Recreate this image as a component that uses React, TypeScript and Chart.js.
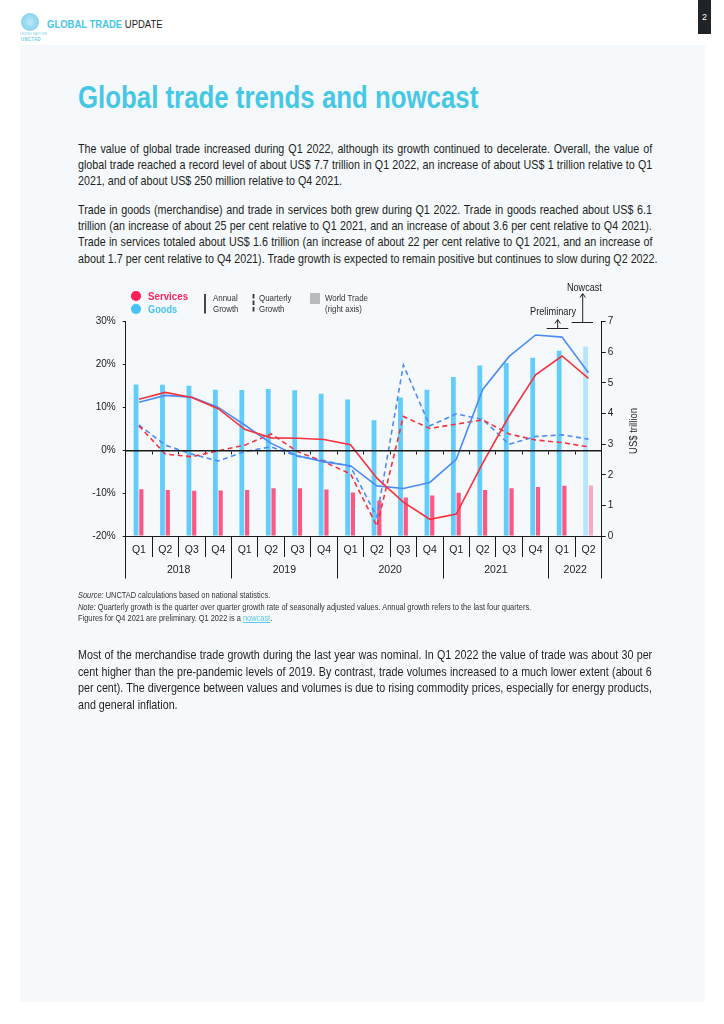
import React, { useEffect, useLayoutEffect, useRef } from 'react';
import { Chart, registerables } from 'chart.js';

Chart.register(...registerables);

// ---------- data ----------
const quarterLabels = ['Q1', 'Q2', 'Q3', 'Q4', 'Q1', 'Q2', 'Q3', 'Q4', 'Q1', 'Q2', 'Q3', 'Q4', 'Q1', 'Q2', 'Q3', 'Q4', 'Q1', 'Q2'];
const yearLabels = ['2018', '2019', '2020', '2021', '2022'];
const quartersPerYear = [4, 4, 4, 4, 2];

// World trade, US$ trillion (right axis)
const goodsTrade = [4.95, 4.94, 4.91, 4.78, 4.77, 4.80, 4.76, 4.65, 4.46, 3.78, 4.52, 4.78, 5.19, 5.57, 5.65, 5.82, 6.05, 6.19];
const servicesTrade = [1.53, 1.50, 1.48, 1.49, 1.50, 1.56, 1.56, 1.52, 1.42, 1.16, 1.26, 1.32, 1.41, 1.50, 1.56, 1.60, 1.64, 1.65];

// Growth rates, % (left axis)
const servicesAnnualGrowth = [11.9, 13.5, 12.3, 9.7, 4.9, 2.9, 2.8, 2.5, 1.3, -6.5, -12.1, -16.1, -14.9, -3.0, 8.0, 17.6, 22.0, 16.8];
const goodsAnnualGrowth = [11.2, 12.8, 12.4, 10.0, 5.9, 1.6, -1.3, -2.7, -3.6, -8.3, -8.9, -7.5, -2.1, 14.2, 21.9, 26.9, 26.4, 18.1];
const servicesQuarterlyGrowth = [5.7, -0.9, -1.5, -0.1, 1.2, 3.8, -0.3, -2.7, -5.5, -17.7, 7.9, 5.1, 6.1, 7.1, 3.8, 2.4, 1.8, 0.8];
const goodsQuarterlyGrowth = [5.9, 1.2, -0.9, -2.5, -0.3, 0.8, -1.4, -2.4, -3.8, -15.5, 19.9, 5.7, 8.5, 7.2, 1.4, 3.2, 3.6, 2.6];

const nowcastFromIndex = 17;
const leftAxisRange = [-20, 30];
const leftAxisStep = 10;
const rightAxisRange = [0, 7];
const rightAxisStep = 1;

const para1Lines = [
  'The value of global trade increased during Q1 2022, although its growth continued to decelerate. Overall, the value of',
  'global trade reached a record level of about US$ 7.7 trillion in Q1 2022, an increase of about US$ 1 trillion relative to Q1',
  '2021, and of about US$ 250 million relative to Q4 2021.',
];
const para2Lines = [
  'Trade in goods (merchandise) and trade in services both grew during Q1 2022. Trade in goods reached about US$ 6.1',
  'trillion (an increase of about 25 per cent relative to Q1 2021, and an increase of about 3.6 per cent relative to Q4 2021).',
  'Trade in services totaled about US$ 1.6 trillion (an increase of about 22 per cent relative to Q1 2021, and an increase of',
  'about 1.7 per cent relative to Q4 2021). Trade growth is expected to remain positive but continues to slow during Q2 2022.',
];
const para3Lines = [
  'Most of the merchandise trade growth during the last year was nominal. In Q1 2022 the value of trade was about 30 per',
  'cent higher than the pre-pandemic levels of 2019. By contrast, trade volumes increased to a much lower extent (about 6',
  'per cent). The divergence between values and volumes is due to rising commodity prices, especially for energy products,',
  'and general inflation.',
];

// ---------- styles ----------
const SANS = "'Liberation Sans', Arial, sans-serif";
const COND = 0.825; // horizontal condensing of DOM text
const CYAN = '#47c7e6';
const TEXT = '#231f20';
const GOODS = '#62cdfa';
const GOODS_NOW = '#b6e6fb';
const SERV = '#fb5886';
const SERV_NOW = '#f9a9c2';
const RED = '#f7323d';
const BLUE = '#4d8cf5';
const AXIS = '#1a1a1a';

const TEXT_LEFT = 78;
const TEXT_WIDTH = 574;

function CText({ left, top, size, lh, color = TEXT, weight, children, style = {} }: any) {
  return (
    <div
      style={{
        position: 'absolute',
        left,
        top,
        fontFamily: SANS,
        fontSize: size,
        lineHeight: lh + 'px',
        color,
        fontWeight: weight,
        whiteSpace: 'nowrap',
        transform: `scaleX(${COND})`,
        transformOrigin: '0 50%',
        ...style,
      }}
    >
      {children}
    </div>
  );
}

function JLine({ text, top, justify }: { text: string; top: number; justify: boolean }) {
  const ref = useRef<HTMLSpanElement>(null);
  useLayoutEffect(() => {
    const el = ref.current;
    if (!el || !justify) return;
    el.style.wordSpacing = '0px';
    const w = el.offsetWidth;
    const spaces = (text.match(/ /g) || []).length;
    if (spaces) el.style.wordSpacing = (TEXT_WIDTH / COND - w) / spaces + 'px';
  }, [text, justify]);
  return (
    <CText left={TEXT_LEFT} top={top} size={13} lh={16}>
      <span ref={ref} style={{ display: 'inline-block' }}>{text}</span>
    </CText>
  );
}

function Para({ lines, firstCenter, spacing }: { lines: string[]; firstCenter: number; spacing: number }) {
  return (
    <>
      {lines.map((l, i) => (
        <JLine key={i} text={l} top={firstCenter + i * spacing - 8} justify={i < lines.length - 1} />
      ))}
    </>
  );
}

function ChartBox() {
  const canvasRef = useRef<HTMLCanvasElement>(null);
  useEffect(() => {
    const canvas = canvasRef.current;
    if (!canvas) return;
    const bounds: number[] = [0];
    quartersPerYear.forEach((q) => bounds.push(bounds[bounds.length - 1] + q));
    const centers = quartersPerYear.map((q, i) => bounds[i] + q / 2);
    const yearTickValues = [...bounds, ...centers].sort((a, b) => a - b);
    const yearLabelAt = (v: number) => {
      const i = centers.indexOf(v);
      return i >= 0 ? yearLabels[i] : '';
    };
    const nulls = quarterLabels.map(() => null);
    const goodsColors = goodsTrade.map((_, i) => (i >= nowcastFromIndex ? GOODS_NOW : GOODS));
    const servColors = servicesTrade.map((_, i) => (i >= nowcastFromIndex ? SERV_NOW : SERV));
    const tickFont = { family: SANS, size: 10 };
    const boundColor = (ctx: any) => (ctx.tick && bounds.includes(ctx.tick.value) ? AXIS : 'rgba(0,0,0,0)');

    const chart = new Chart(canvas, {
      type: 'bar',
      data: {
        labels: quarterLabels,
        datasets: [
          { type: 'line', label: 'Services annual growth', data: servicesAnnualGrowth, borderColor: RED, borderWidth: 1.6, pointRadius: 0, tension: 0, xAxisID: 'x', yAxisID: 'y', order: 0 },
          { type: 'line', label: 'Goods annual growth', data: goodsAnnualGrowth, borderColor: BLUE, borderWidth: 1.6, pointRadius: 0, tension: 0, xAxisID: 'x', yAxisID: 'y', order: 1 },
          { type: 'line', label: 'Services quarterly growth', data: servicesQuarterlyGrowth, borderColor: RED, borderWidth: 1.6, borderDash: [5, 3.5], pointRadius: 0, tension: 0, xAxisID: 'x', yAxisID: 'y', order: 2 },
          { type: 'line', label: 'Goods quarterly growth', data: goodsQuarterlyGrowth, borderColor: BLUE, borderWidth: 1.6, borderDash: [5, 3.5], pointRadius: 0, tension: 0, xAxisID: 'x', yAxisID: 'y', order: 3 },
          { type: 'bar', label: 'slot-s', data: nulls, xAxisID: 'xS', yAxisID: 'y1', order: 4, categoryPercentage: 0.73, barPercentage: 0.87 },
          { type: 'bar', label: 'Services', data: servicesTrade, backgroundColor: servColors, borderWidth: 0, xAxisID: 'xS', yAxisID: 'y1', order: 5, categoryPercentage: 0.73, barPercentage: 0.87 },
          { type: 'bar', label: 'Goods', data: goodsTrade, backgroundColor: goodsColors, borderWidth: 0, xAxisID: 'x', yAxisID: 'y1', order: 6, categoryPercentage: 0.29, barPercentage: 2.5 },
          { type: 'bar', label: 'slot-g', data: nulls, xAxisID: 'x', yAxisID: 'y1', order: 7, categoryPercentage: 0.29, barPercentage: 2.5 },
        ] as any,
      },
      options: {
        responsive: false,
        animation: false,
        events: [],
        layout: { padding: { top: 21.7, left: 0, right: 0, bottom: 0 } },
        plugins: { legend: { display: false }, tooltip: { enabled: false } },
        scales: {
          x: {
            type: 'category',
            position: 'bottom',
            weight: 0,
            offset: true,
            grid: { offset: true, drawOnChartArea: false, tickLength: 21, color: AXIS, tickColor: AXIS, lineWidth: 1 },
            border: { display: true, color: AXIS, width: 1 },
            ticks: { font: { family: SANS, size: 10.5 }, color: '#222', padding: -13.5, maxRotation: 0, autoSkip: false },
            afterFit: (s: any) => { s.height = 21; },
          },
          xYear: {
            type: 'linear',
            position: 'bottom',
            weight: 1,
            offset: false,
            min: 0,
            max: quarterLabels.length,
            afterBuildTicks: (s: any) => { s.ticks = yearTickValues.map((v) => ({ value: v })); },
            ticks: { callback: (v: any) => yearLabelAt(Number(v)), font: { family: SANS, size: 10.5 }, color: '#222', padding: -14.8, maxRotation: 0, autoSkip: false },
            grid: { offset: false, drawOnChartArea: false, tickLength: 21.5, lineWidth: 1, color: boundColor, tickColor: boundColor },
            border: { display: false },
            afterFit: (s: any) => { s.height = 28; },
          },
          xS: { type: 'category', display: false, offset: true },
          xZero: {
            type: 'category',
            position: { y: 0 },
            offset: true,
            ticks: { display: false },
            grid: { offset: true, drawOnChartArea: false, tickLength: 3, color: AXIS, tickColor: AXIS },
            border: { display: true, color: AXIS, width: 1.5, z: 1 },
          },
          y: {
            type: 'linear',
            position: 'left',
            min: leftAxisRange[0],
            max: leftAxisRange[1],
            ticks: { stepSize: leftAxisStep, callback: (v: any) => v + '%', font: tickFont, color: '#222', padding: 7 },
            grid: { drawOnChartArea: false, tickLength: 3, color: AXIS, tickColor: AXIS },
            border: { display: true, color: AXIS, width: 1 },
            afterFit: (s: any) => { s.width = 47.7; },
          },
          y1: {
            type: 'linear',
            position: 'right',
            min: rightAxisRange[0],
            max: rightAxisRange[1],
            ticks: { stepSize: rightAxisStep, font: tickFont, color: '#222', padding: 2 },
            grid: { drawOnChartArea: false, tickLength: 4, color: AXIS, tickColor: AXIS },
            border: { display: true, color: AXIS, width: 1 },
            afterFit: (s: any) => { s.width = 58.3; },
          },
        } as any,
      },
    });
    return () => chart.destroy();
  }, []);
  return (
    <div style={{ position: 'absolute', left: 78, top: 300, width: 582, height: 285 }}>
      <canvas ref={canvasRef} width={582} height={285} style={{ display: 'block', width: 582, height: 285 }} />
    </div>
  );
}

export default function App() {
  useEffect(() => {
    document.body.style.margin = '0';
  }, []);
  return (
    <div style={{ position: 'relative', width: 724, height: 1024, overflow: 'hidden', background: '#ffffff' }}>
      {/* page panel */}
      <div style={{ position: 'absolute', left: 20, top: 45, width: 685, height: 957, background: '#f5f9fc' }} />

      {/* header */}
      <div style={{ position: 'absolute', left: 21, top: 13, width: 18, height: 18, borderRadius: '50%', background: 'radial-gradient(circle, #bfe9f7 0%, #8fd6ef 60%, #6fcbea 100%)' }} />
      <CText left={20} top={32} size={3.6} lh={4} color="#6fcbea" style={{ letterSpacing: 0.2 }}>UNITED NATIONS</CText>
      <CText left={21} top={36.5} size={5} lh={5} color="#6fcbea" weight={700} style={{ letterSpacing: 0.6 }}>UNCTAD</CText>
      <CText left={47} top={16.5} size={11.5} lh={14}>
        <span style={{ color: CYAN, fontWeight: 700 }}>GLOBAL TRADE </span>
        <span style={{ color: '#222' }}>UPDATE</span>
      </CText>
      <div style={{ position: 'absolute', left: 698, top: 0, width: 13, height: 34, background: '#1e2428', color: '#fff', fontFamily: SANS, fontSize: 9, textAlign: 'center', lineHeight: '34px' }}>2</div>

      {/* title */}
      <CText left={78} top={81.7} size={31.3} lh={31} weight={700} color={CYAN}>Global trade trends and nowcast</CText>

      <Para lines={para1Lines} firstCenter={149} spacing={16.2} />
      <Para lines={para2Lines} firstCenter={210} spacing={16.2} />

      {/* chart */}
      <ChartBox />

      {/* legend */}
      <div style={{ position: 'absolute', left: 131, top: 291, width: 9.5, height: 9.5, borderRadius: '50%', background: '#ff1f5a' }} />
      <div style={{ position: 'absolute', left: 131, top: 304.3, width: 9.5, height: 9.5, borderRadius: '50%', background: '#46c3f6' }} />
      <CText left={147.7} top={288.5} size={11.8} lh={14} weight={700} color="#ff1f5a">Services</CText>
      <CText left={147.7} top={302} size={11.2} lh={14} weight={700} color="#46c3f6">Goods</CText>
      <CText left={212.7} top={291.5} size={9.6} lh={11.7} color="#333">Annual<br />Growth</CText>
      <CText left={259} top={291.5} size={9.6} lh={11.7} color="#333">Quarterly<br />Growth</CText>
      <div style={{ position: 'absolute', left: 310, top: 293.3, width: 10, height: 11, background: '#b7bbbb' }} />
      <CText left={325.3} top={291.5} size={9.6} lh={11.7} color="#333">World Trade<br />(right axis)</CText>

      <CText left={566.5} top={281.3} size={11} lh={13} color="#222">Nowcast</CText>
      <CText left={530} top={304.5} size={11.2} lh={13} color="#222">Preliminary</CText>

      <div style={{ position: 'absolute', left: 633, top: 431, transform: 'translate(-50%, -50%) rotate(-90deg) scaleX(0.825)', fontFamily: SANS, fontSize: 11.5, lineHeight: '13px', color: '#222', whiteSpace: 'nowrap' }}>US$ trillion</div>

      <svg width={724} height={1024} style={{ position: 'absolute', left: 0, top: 0, pointerEvents: 'none' }}>
        <line x1={205} y1={294} x2={205} y2={313.5} stroke="#333" strokeWidth={1.8} />
        <line x1={253.5} y1={294} x2={253.5} y2={313.5} stroke="#333" strokeWidth={1.8} strokeDasharray="4.5 2" />
        <line x1={582.7} y1={294} x2={582.7} y2={322.5} stroke="#222" strokeWidth={1} />
        <polyline points="580,297.5 582.7,293.5 585.4,297.5" fill="none" stroke="#222" strokeWidth={1} />
        <line x1={571.7} y1={322.5} x2={593} y2={322.5} stroke="#222" strokeWidth={1} />
        <line x1={557.7} y1={320} x2={557.7} y2={328.5} stroke="#222" strokeWidth={1} />
        <polyline points="555,323.5 557.7,319.5 560.4,323.5" fill="none" stroke="#222" strokeWidth={1} />
        <line x1={546.7} y1={328.5} x2={568.3} y2={328.5} stroke="#222" strokeWidth={1} />
      </svg>

      {/* source notes */}
      <CText left={78} top={590} size={9} lh={11.7} color="#333" style={{ transformOrigin: '0 0' }}>
        <i>Source:</i> UNCTAD calculations based on national statistics.
        <br />
        <i>Note:</i> Quarterly growth is the quarter over quarter growth rate of seasonally adjusted values. Annual growth refers to the last four quarters.
        <br />
        Figures for Q4 2021 are preliminary. Q1 2022 is a <span style={{ color: '#5bc8e8', textDecoration: 'underline' }}>nowcast</span>.
      </CText>

      <Para lines={para3Lines} firstCenter={655} spacing={16.5} />
    </div>
  );
}
